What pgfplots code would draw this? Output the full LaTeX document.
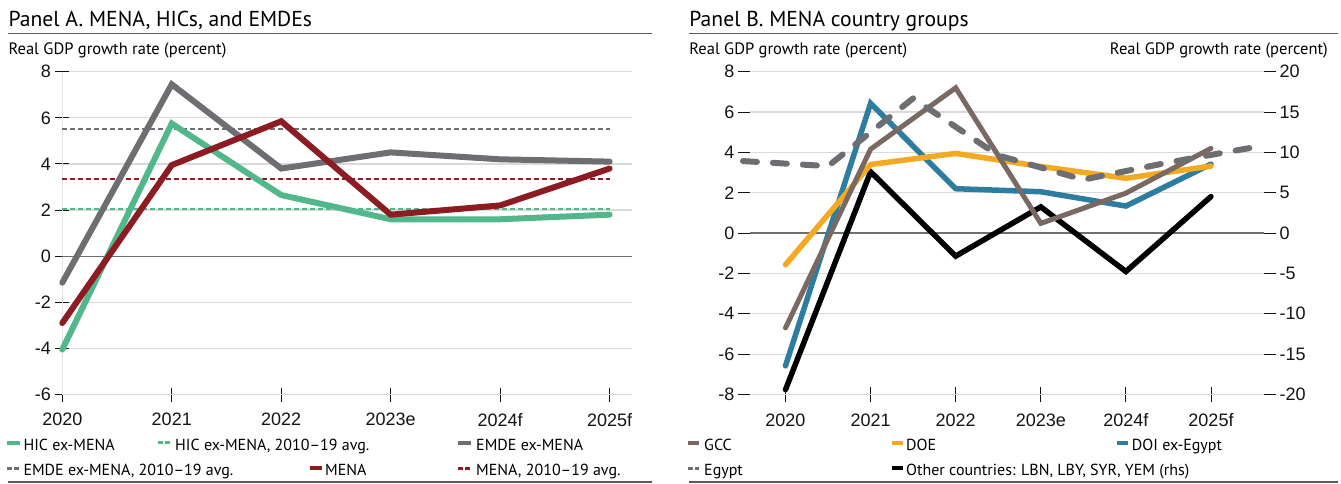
\documentclass[border=0pt]{standalone}
\usepackage{pgfplots}
\pgfplotsset{compat=1.18}
\usepackage{fontspec}
\setmainfont{PT Sans}
\newfontfamily\tickfont{Liberation Sans}
\definecolor{hicgreen}{RGB}{82,183,138}
\definecolor{emdegray}{RGB}{109,110,113}
\definecolor{menared}{RGB}{140,28,34}
\definecolor{gccbrown}{RGB}{122,105,99}
\definecolor{doeorange}{RGB}{243,169,33}
\definecolor{doiblue}{RGB}{45,125,160}
\definecolor{gridgray}{RGB}{218,218,218}
\definecolor{zerogray}{RGB}{110,110,110}
\definecolor{rulegray}{RGB}{90,90,90}
\definecolor{ticklbl}{RGB}{20,20,20}
\begin{document}
\begin{tikzpicture}[x=1pt,y=1pt]
\path[use as bounding box] (0,0) rectangle (1341,483);
% ---------- titles and labels
\node[anchor=base west, inner sep=0, font=\fontsize{21.6}{25}\selectfont] at (8.4,456.3) {Panel A. MENA, HICs, and EMDEs};
\node[anchor=base west, inner sep=0, font=\fontsize{21.6}{25}\selectfont] at (689.2,456.3) {Panel B. MENA country groups};
\draw[rulegray, line width=1.3pt] (8.4,449.7) -- (652,449.7);
\draw[rulegray, line width=1.3pt] (689.2,449.7) -- (1338,449.7);
\node[anchor=base west, inner sep=0, font=\fontsize{16.5}{19}\selectfont] at (8.4,428) {Real GDP growth rate (percent)};
\node[anchor=base west, inner sep=0, font=\fontsize{16.5}{19}\selectfont] at (689.2,428) {Real GDP growth rate (percent)};
\node[anchor=base east, inner sep=0, font=\fontsize{16.5}{19}\selectfont] at (1328,428) {Real GDP growth rate (percent)};
\draw[rulegray, line width=1.3pt] (8.4,1) -- (652,1);
\draw[rulegray, line width=1.3pt] (689.2,1) -- (1338,1);

% ---------- Panel A
\pgfplotstableread{
x hic emde mena
0 -4.05 -1.15 -2.90
1 5.75 7.45 3.95
2 2.65 3.80 5.85
3 1.60 4.50 1.80
4 1.60 4.20 2.20
5 1.80 4.10 3.80
}\panelA
\begin{axis}[
  at={(62.3pt,88.5pt)}, anchor=south west, scale only axis,
  width=569.2pt, height=322.8pt,
  xmin=0, xmax=5.2, ymin=-6, ymax=8,
  axis x line*=bottom, axis y line*=left,
  x axis line style={draw=gridgray, line width=1.2pt},
  y axis line style={draw=gridgray!70, line width=1.2pt},
  xtick={0,1,2,3,4,5}, xticklabels={2020,2021,2022,2023e,2024f,2025f},
  ytick={-6,-4,-2,0,2,4,6,8}, yticklabels={-6,-4,-2,0,2,4,6,8},
  xtick align=center, ytick align=center, major tick length=14pt,
  tick style={ticklbl, line width=1pt},
  ymajorgrids, grid style={gridgray, line width=1.2pt},
  ticklabel style={font=\tickfont\fontsize{18}{20}\selectfont, text=ticklbl},
  xticklabel style={yshift=-8pt},
  yticklabel style={xshift=-1pt},
  clip=false,
]
\draw[zerogray, line width=1.3pt] (axis cs:0,0) -- (axis cs:5.2,0);
\addplot[hicgreen, line width=2pt, dash pattern=on 5pt off 3pt] coordinates {(0,2.05) (5,2.05)};
\addplot[emdegray, line width=2pt, dash pattern=on 5pt off 3pt] coordinates {(0,5.5) (5,5.5)};
\addplot[menared, line width=2pt, dash pattern=on 5pt off 3pt] coordinates {(0,3.35) (5,3.35)};
\addplot[emdegray, line width=6pt, line cap=round] table[x=x, y=emde] {\panelA};
\addplot[hicgreen, line width=6pt, line cap=round] table[x=x, y=hic] {\panelA};
\addplot[menared, line width=6pt, line cap=round] table[x=x, y=mena] {\panelA};
\end{axis}

% ---------- Panel B
\pgfplotstableread{
x gcc doe doi other
0 -4.70 -1.57 -6.58 -19.40
1 4.16 3.40 6.43 7.60
2 7.20 3.95 2.20 -2.85
3 0.48 3.30 2.05 3.25
4 1.98 2.72 1.34 -4.76
5 4.20 3.32 3.42 4.53
}\panelB
\pgfplotstableread{
x egypt
-0.5 3.57
0.5 3.32
1.5 6.68
2.5 3.85
3.5 2.65
4.5 3.50
5.5 4.25
}\egypt
% x ticks
\begin{axis}[
  at={(750pt,88.5pt)}, anchor=south west, scale only axis,
  width=514pt, height=322.8pt,
  xmin=-0.417, xmax=5.623, ymin=-8, ymax=8,
  axis x line*=bottom, axis y line=none,
  x axis line style={draw=none},
  xtick={0,1,2,3,4,5}, xticklabels={2020,2021,2022,2023e,2024f,2025f},
  ytick=\empty,
  xtick align=center, major tick length=15.5pt,
  tick style={ticklbl, line width=1pt},
  ticklabel style={font=\tickfont\fontsize{18}{20}\selectfont, text=ticklbl},
  xticklabel style={yshift=-8pt},
]
\end{axis}
% right axis: grid, zero line, black series
\begin{axis}[
  at={(750pt,88.5pt)}, anchor=south west, scale only axis,
  width=514pt, height=322.8pt,
  xmin=-0.417, xmax=5.623, ymin=-20, ymax=20,
  axis x line=none, axis y line*=right,
  y axis line style={draw=none},
  xtick=\empty,
  ytick={-20,-15,...,20}, yticklabels={-20,-15,-10,-5,0,5,10,15,20},
  ytick align=outside, major tick length=12pt,
  tick style={ticklbl, line width=1pt},
  ymajorgrids, grid style={gridgray, line width=1.2pt},
  ticklabel style={font=\tickfont\fontsize{18}{20}\selectfont, text=ticklbl},
  clip=false,
]
\draw[zerogray, line width=1.3pt] (axis cs:-0.417,0) -- (axis cs:5.623,0);
\addplot[black, line width=5.5pt, line cap=round] table[x=x, y=other] {\panelB};
\end{axis}
% left axis
\begin{axis}[
  at={(750pt,88.5pt)}, anchor=south west, scale only axis,
  width=514pt, height=322.8pt,
  xmin=-0.417, xmax=5.623, ymin=-8, ymax=8,
  axis x line=none, axis y line*=left,
  y axis line style={draw=none},
  xtick=\empty,
  ytick={-8,-6,...,8}, yticklabels={-8,-6,-4,-2,0,2,4,6,8},
  ytick align=outside, major tick length=12pt,
  tick style={ticklbl, line width=1pt},
  ticklabel style={font=\tickfont\fontsize{18}{20}\selectfont, text=ticklbl},
  clip=false,
]
\addplot[doiblue, line width=5.5pt, line cap=round] table[x=x, y=doi] {\panelB};
\addplot[doeorange, line width=5.5pt, line cap=round] table[x=x, y=doe] {\panelB};
\addplot[gccbrown, line width=5pt, line cap=round] table[x=x, y=gcc] {\panelB};
\addplot[emdegray, line width=6pt, line cap=round, dash pattern=on 14pt off 16pt] table[x=x, y=egypt] {\egypt};
\end{axis}

% ---------- legends (manual)
\tikzset{legtxt/.style={anchor=base west, inner sep=0, font=\fontsize{16}{18}\selectfont},
  legsolid/.style={line width=4pt},
  legdash/.style={line width=3.5pt, dash pattern=on 4.5pt off 2.5pt}}
% Panel A
\draw[legsolid, hicgreen] (7.3,40.3) -- (20,40.3);
\node[legtxt] at (23.3,33) {HIC ex-MENA};
\draw[legdash, hicgreen] (158.3,40.3) -- (171.7,40.3);
\node[legtxt] at (175,33) {HIC ex-MENA, 2010--19 avg.};
\draw[legsolid, emdegray] (458,40.3) -- (470.5,40.3);
\node[legtxt] at (476,33) {EMDE ex-MENA};
\draw[legdash, emdegray] (7.3,14.7) -- (20,14.7);
\node[legtxt] at (23.3,7.3) {EMDE ex-MENA, 2010--19 avg.};
\draw[legsolid, menared] (310,14.7) -- (321.7,14.7);
\node[legtxt] at (325,7.3) {MENA};
\draw[legdash, menared] (458,14.7) -- (470.5,14.7);
\node[legtxt] at (476,7.3) {MENA, 2010--19 avg.};
% Panel B
\draw[legsolid, gccbrown] (688.4,40.3) -- (699,40.3);
\node[legtxt] at (704,33) {GCC};
\draw[legsolid, doeorange] (891.7,40.3) -- (903.3,40.3);
\node[legtxt] at (906,33) {DOE};
\draw[legsolid, doiblue] (1116.7,40.3) -- (1128.3,40.3);
\node[legtxt] at (1131.7,33) {DOI ex-Egypt};
\draw[legdash, emdegray] (688.4,14.7) -- (699,14.7);
\node[legtxt] at (704,7.3) {Egypt};
\draw[legsolid, black] (891.7,14.7) -- (903.3,14.7);
\node[legtxt] at (906,7.3) {Other countries: LBN, LBY, SYR, YEM (rhs)};
\end{tikzpicture}
\end{document}
